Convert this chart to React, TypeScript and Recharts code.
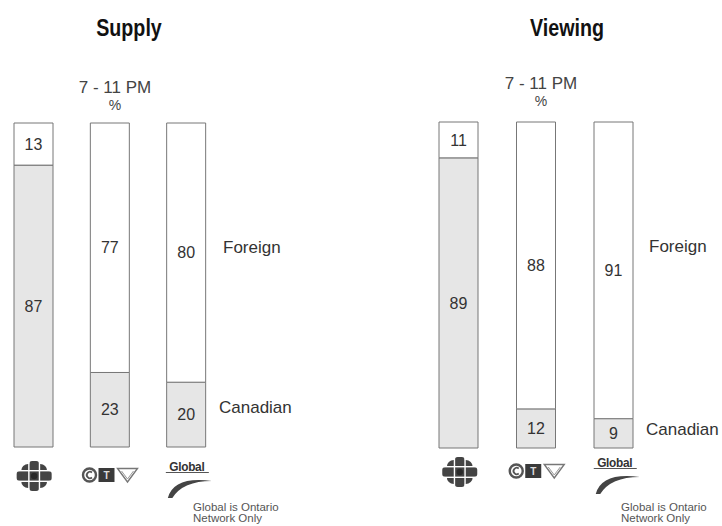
import React from 'react';
import { BarChart, Bar, XAxis, YAxis, LabelList } from 'recharts';

const networks = ['CBC', 'CTV', 'Global'];
const supplyCanadian = [87, 23, 20];
const supplyForeign = [13, 77, 80];
const viewingCanadian = [89, 12, 9];
const viewingForeign = [11, 88, 91];

const panelTitles = ['Supply', 'Viewing'];
const periodLabel = '7 - 11 PM';
const unitLabel = '%';
const seriesLabels = ['Foreign', 'Canadian'];
const footnoteLines = ['Global is Ontario', 'Network Only'];

const FONT = '"Liberation Sans", Arial, Helvetica, sans-serif';

const supplyData = networks.map((n, i) => ({ name: n, canadian: supplyCanadian[i], foreign: supplyForeign[i] }));
const viewingData = networks.map((n, i) => ({ name: n, canadian: viewingCanadian[i], foreign: viewingForeign[i] }));

const LogoTick = (props: any) => {
  const { x, y, payload, dy = 0 } = props;
  const v = payload && payload.value;
  if (v === 'CBC') {
    return (
      <g transform={`translate(${x + 1},${y + 24 + dy})`}>
        <rect x={-17.5} y={-5} width={35} height={10} rx={3} fill="#444" />
        <rect x={-5} y={-15} width={10} height={30} rx={3} fill="#444" />
        <rect x={-13} y={-12} width={26} height={24} rx={7} fill="#444" />
        <rect x={-6} y={-16} width={1.4} height={32} fill="#fff" />
        <rect x={4.6} y={-16} width={1.4} height={32} fill="#fff" />
        <rect x={-18} y={-6} width={36} height={1.4} fill="#fff" />
        <rect x={-18} y={4.6} width={36} height={1.4} fill="#fff" />
        <circle cx={0} cy={0} r={3.2} fill="#2a2a2a" />
      </g>
    );
  }
  if (v === 'CTV') {
    return (
      <g transform={`translate(${x},${y + 23 + dy})`}>
        <circle cx={-20} cy={0} r={6.5} fill="#fff" stroke="#555" strokeWidth={2.4} />
        <path d="M -17.5 -2.5 A 3.2 3.2 0 1 0 -17.5 2.5" fill="none" stroke="#555" strokeWidth={1.8} />
        <rect x={-11} y={-7} width={16} height={14} fill="#3a3a3a" />
        <text x={-3} y={4} textAnchor="middle" fontSize={10} fontWeight="bold" fill="#ddd" fontFamily={FONT}>T</text>
        <polygon points="8,-6.5 28,-6.5 18,7" fill="#fff" stroke="#777" strokeWidth={1.4} />
        <polyline points="12,-4 18,4 24,-4" fill="none" stroke="#999" strokeWidth={1} />
      </g>
    );
  }
  if (v === 'Global') {
    return (
      <g transform={`translate(${x + 1},${y + 19 + dy})`}>
        <g transform="scale(0.95,1)">
          <text x={0} y={0} textAnchor="middle" fontSize={12.5} fontWeight="bold" fill="#333" fontFamily={FONT} letterSpacing={-0.3}>Global</text>
        </g>
        <line x1={-21} y1={1.5} x2={22} y2={1.5} stroke="#555" strokeWidth={1} />
        <path d="M -19 27 Q -13 5 25 10 Q -4 10 -14.5 27 Z" fill="#444" />
      </g>
    );
  }
  return null;
};

const barCommon = { stackId: 'a', isAnimationActive: false, stroke: '#777', strokeWidth: 1, barSize: 39 } as const;

const Panel = ({ data, width, left, right, top, bottom, dy }: any) => (
  <BarChart width={width} height={526} data={data} margin={{ top, bottom, left, right }}>
    <XAxis
      dataKey="name"
      axisLine={false}
      tickLine={false}
      tickSize={0}
      tickMargin={0}
      height={60}
      interval={0}
      tick={<LogoTick dy={dy} />}
    />
    <YAxis hide domain={[0, 100]} />
    <Bar dataKey="canadian" fill="#e6e6e6" {...barCommon}>
      <LabelList dataKey="canadian" position="center" fill="#333" fontSize={16} fontFamily={FONT} />
    </Bar>
    <Bar dataKey="foreign" fill="#ffffff" {...barCommon}>
      <LabelList dataKey="foreign" position="center" fill="#333" fontSize={16} fontFamily={FONT} />
    </Bar>
  </BarChart>
);

const Title = ({ x, y, children }: any) => (
  <g transform={`translate(${x},${y}) scale(0.82,1)`}>
    <text x={0} y={0} textAnchor="middle" fontSize={24} fontWeight="bold" fill="#111" fontFamily={FONT}>{children}</text>
  </g>
);

export default function App() {
  return (
    <div style={{ position: 'absolute', left: 0, top: 0, width: 722, height: 526, background: '#fff', overflow: 'hidden' }}>
      <div style={{ position: 'absolute', left: -5, top: 0 }}>
        <Panel data={supplyData} width={245} left={0} right={16} top={123} bottom={19} dy={5} />
      </div>
      <div style={{ position: 'absolute', left: 361, top: 0 }}>
        <Panel data={viewingData} width={305} left={59} right={13.5} top={122} bottom={18} dy={0} />
      </div>
      <svg width={722} height={526} style={{ position: 'absolute', left: 0, top: 0, pointerEvents: 'none' }}>
        <Title x={129} y={36}>{panelTitles[0]}</Title>
        <Title x={567} y={36}>{panelTitles[1]}</Title>

        <text x={115} y={93} textAnchor="middle" fontSize={17} fill="#444" fontFamily={FONT}>{periodLabel}</text>
        <text x={115} y={110} textAnchor="middle" fontSize={14} fill="#444" fontFamily={FONT}>{unitLabel}</text>
        <text x={541} y={89} textAnchor="middle" fontSize={17} fill="#444" fontFamily={FONT}>{periodLabel}</text>
        <text x={541} y={106} textAnchor="middle" fontSize={14} fill="#444" fontFamily={FONT}>{unitLabel}</text>

        <text x={223} y={253} fontSize={17} fill="#333" fontFamily={FONT}>{seriesLabels[0]}</text>
        <text x={219} y={413} fontSize={17} fill="#333" fontFamily={FONT}>{seriesLabels[1]}</text>
        <text x={649} y={252} fontSize={17} fill="#333" fontFamily={FONT}>{seriesLabels[0]}</text>
        <text x={646} y={435} fontSize={17} fill="#333" fontFamily={FONT}>{seriesLabels[1]}</text>

        <text x={193} y={511} fontSize={11.5} fill="#555" fontFamily={FONT}>{footnoteLines[0]}</text>
        <text x={193} y={522} fontSize={11.5} fill="#555" fontFamily={FONT}>{footnoteLines[1]}</text>
        <text x={621} y={511} fontSize={11.5} fill="#555" fontFamily={FONT}>{footnoteLines[0]}</text>
        <text x={621} y={522} fontSize={11.5} fill="#555" fontFamily={FONT}>{footnoteLines[1]}</text>
      </svg>
    </div>
  );
}
